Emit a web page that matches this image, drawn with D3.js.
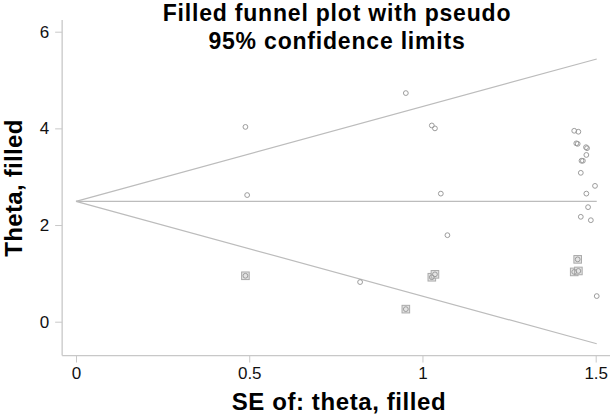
<!DOCTYPE html>
<html>
<head>
<meta charset="utf-8">
<script src="https://cdn.jsdelivr.net/npm/d3@7"></script>
<style>
  body { margin: 0; background: #fff; }
  text { font-family: "Liberation Sans", Arial, sans-serif; }
</style>
</head>
<body>
<svg id="drawing_region"></svg>
<script>
// observed studies
const seObs = [0.489, 0.494, 0.820, 0.952, 1.027, 1.036, 1.053, 1.072,
    1.438, 1.450, 1.448, 1.444, 1.475, 1.472, 1.473, 1.459, 1.463, 1.457,
    1.498, 1.473, 1.478, 1.457, 1.486, 1.503];
const thetaObs = [4.03, 2.62, 0.82, 4.73, 4.06, 4.00, 2.65, 1.79,
    3.95, 3.93, 3.68, 3.69, 3.59, 3.61, 3.45, 3.33, 3.33, 3.08,
    2.81, 2.65, 2.37, 2.17, 2.10, 0.53];

// filled (imputed) studies
const seFill = [0.489, 0.952, 1.027, 1.036, 1.438, 1.450, 1.448];
const thetaFill = [0.95, 0.26, 0.92, 0.98, 1.03, 1.05, 1.29];

const thetaPooled = 2.49;
const limitSE = [0, 1.503];

const xTicks = [0, 0.5, 1, 1.5];
const xTickLabels = ['0', '0.5', '1', '1.5'];
const yTicks = [0, 2, 4, 6];
const yTickLabels = ['0', '2', '4', '6'];

const titleLines = ['Filled funnel plot with pseudo', '95% confidence limits'];
const xTitle = 'SE of: theta, filled';
const yTitle = 'Theta, filled';

const width = 610, height = 416;

const svg = d3.select('#drawing_region')
    .attr('width', width)
    .attr('height', height);

const xscale = d3.scaleLinear().domain([0, 1.5]).range([76, 595.7]);
const yscale = d3.scaleLinear().domain([0, 6]).range([321.7, 31.7]);

const axisColor = '#c8c8c8';
const lineColor = '#bcbcbc';
const markColor = '#9c9c9c';

// axes
const xAxisY = yscale(-0.7);
const yAxisX = xscale(-0.04);

const xaxis = d3.axisBottom(xscale)
    .tickValues(xTicks)
    .tickFormat((d, i) => xTickLabels[i])
    .tickSize(7)
    .tickPadding(4);

const xg = svg.append('g')
    .attr('transform', `translate(0, ${xAxisY})`)
    .call(xaxis);
xg.select('.domain').remove();
xg.selectAll('line').attr('stroke', axisColor);
xg.selectAll('text')
    .attr('fill', '#111')
    .style('font-size', '17px');

svg.append('line')
    .attr('x1', yAxisX).attr('x2', width)
    .attr('y1', xAxisY).attr('y2', xAxisY)
    .attr('stroke', axisColor).attr('stroke-width', 1.3);

const yaxis = d3.axisLeft(yscale)
    .tickValues(yTicks)
    .tickFormat((d, i) => yTickLabels[i])
    .tickSize(7)
    .tickPadding(6);

const yg = svg.append('g')
    .attr('transform', `translate(${yAxisX}, 0)`)
    .call(yaxis);
yg.select('.domain').remove();
yg.selectAll('line').attr('stroke', axisColor);
yg.selectAll('text')
    .attr('fill', '#111')
    .style('font-size', '17px');

svg.append('line')
    .attr('x1', yAxisX).attr('x2', yAxisX)
    .attr('y1', yscale(6.24)).attr('y2', xAxisY)
    .attr('stroke', axisColor).attr('stroke-width', 1.3);

// pseudo 95% limits and pooled line
const lineGen = d3.line()
    .x(d => xscale(d[0]))
    .y(d => yscale(d[1]));

const upper = limitSE.map(s => [s, thetaPooled + 1.96 * s]);
const lower = limitSE.map(s => [s, thetaPooled - 1.96 * s]);
const mid = limitSE.map(s => [s, thetaPooled]);

[upper, mid, lower].forEach(p => {
    svg.append('path')
        .attr('d', lineGen(p))
        .attr('fill', 'none')
        .attr('stroke', lineColor)
        .attr('stroke-width', 1.2);
});

// filled studies: square markers
const filled = seFill.map((s, i) => ({ x: s, y: thetaFill[i] }));
svg.append('g').selectAll('rect')
    .data(filled)
    .join('rect')
    .attr('x', d => xscale(d.x) - 3.8)
    .attr('y', d => yscale(d.y) - 3.8)
    .attr('width', 7.6)
    .attr('height', 7.6)
    .attr('fill', '#e4e4e4')
    .attr('stroke', '#aaaaaa')
    .attr('stroke-width', 1);

const points = seObs.map((s, i) => ({ x: s, y: thetaObs[i] })).concat(filled);
svg.append('g').selectAll('circle')
    .data(points)
    .join('circle')
    .attr('cx', d => xscale(d.x))
    .attr('cy', d => yscale(d.y))
    .attr('r', 2.4)
    .attr('fill', 'none')
    .attr('stroke', markColor)
    .attr('stroke-width', 1);

// titles
svg.append('g').selectAll('text')
    .data(titleLines)
    .join('text')
    .attr('x', 337)
    .attr('y', (d, i) => 21 + i * 28)
    .attr('text-anchor', 'middle')
    .style('font-size', '23px')
    .style('letter-spacing', '0.8px')
    .style('font-weight', 'bold')
    .text(d => d);

svg.append('text')
    .attr('x', 339)
    .attr('y', 410)
    .attr('text-anchor', 'middle')
    .style('font-size', '24px')
    .style('letter-spacing', '0.6px')
    .style('font-weight', 'bold')
    .text(xTitle);

svg.append('text')
    .attr('transform', 'translate(22, 188) rotate(-90)')
    .attr('text-anchor', 'middle')
    .style('font-size', '24px')
    .style('letter-spacing', '0.3px')
    .style('font-weight', 'bold')
    .text(yTitle);
</script>
</body>
</html>
